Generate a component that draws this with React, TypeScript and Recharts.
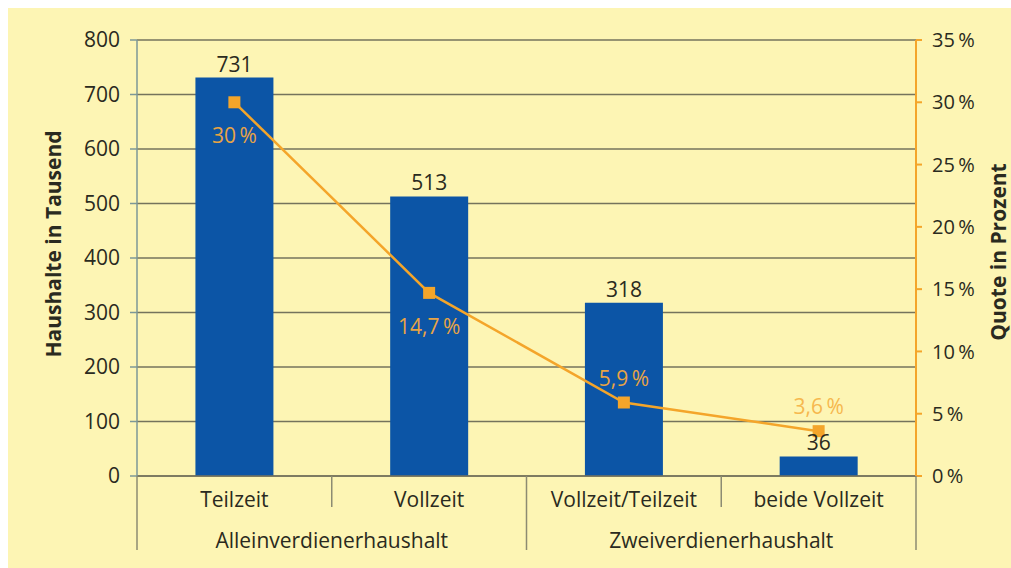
import { ComposedChart, Bar, Line, XAxis, YAxis, CartesianGrid, LabelList, Label } from "recharts";

const categories = ["Teilzeit", "Vollzeit", "Vollzeit/Teilzeit", "beide Vollzeit"];
const groups = ["Alleinverdienerhaushalt", "Zweiverdienerhaushalt"];
const groupOf = [0, 0, 1, 1];
const households = [731, 513, 318, 36]; // in Tausend
const quote = [30, 14.7, 5.9, 3.6]; // in Prozent
const leftTicks = [0, 100, 200, 300, 400, 500, 600, 700, 800];
const rightTicks = [0, 5, 10, 15, 20, 25, 30, 35];

const data = categories.map((name, i) => ({
  name,
  group: groupOf[i],
  households: households[i],
  quote: quote[i],
}));

const colors = {
  bg: "#fdf5b4",
  bar: "#0c55a6",
  orange: "#f4a52a",
  orangeLight: "#f6b84e",
  grid: "#74735c",
  divider: "#8c8b72",
  axis: "#7c9797",
  text: "#2a2a20",
};

const font = "'Open Sans', sans-serif";
const pct = (v: number) => `${String(v).replace(".", ",")}\u2009%`;

const CategoryTick = (props: any) => {
  const { x, y, payload, index } = props;
  const half = payload?.offset ?? 97.4;
  const g = groupOf[index];
  const first = index === 0 || groupOf[index - 1] !== g;
  const last = index === categories.length - 1;
  const members = groupOf.filter((v) => v === g).length;
  return (
    <g>
      <line x1={x - half} x2={x - half} y1={y} y2={y + (first ? 74 : 31)} stroke={colors.divider} strokeWidth={1.5} />
      {last && <line x1={x + half} x2={x + half} y1={y} y2={y + 74} stroke={colors.divider} strokeWidth={1.5} />}
      <text x={x} y={y + 31} textAnchor="middle" fontSize={21} fill={colors.text} fontFamily={font}>
        {payload.value}
      </text>
      {first && (
        <text x={x + (members - 1) * half} y={y + 72} textAnchor="middle" fontSize={21} fill={colors.text} fontFamily={font}>
          {groups[g]}
        </text>
      )}
    </g>
  );
};

const PctLabel = (props: any) => {
  const { x, y, value, index } = props;
  const below = value > 10;
  return (
    <text
      x={x}
      y={below ? y + 41 : y - 17}
      textAnchor="middle"
      fontSize={21}
      fill={index === quote.length - 1 ? colors.orangeLight : "#e9a444"}
      fontFamily={font}
    >
      {pct(value)}
    </text>
  );
};

const SquareDot = (props: any) => {
  const { cx, cy } = props;
  return <rect x={cx - 6} y={cy - 6} width={12} height={12} fill={colors.orange} />;
};

const LeftTitle = (props: any) => {
  const { x, y, height } = props.viewBox;
  const cx = x - 4;
  const cy = y + height / 2 - 14;
  return (
    <text x={cx} y={cy} transform={`rotate(-90 ${cx} ${cy})`} textAnchor="middle" dominantBaseline="central"
      fontSize={21} fontWeight="bold" fill={colors.text} fontFamily={font}>
      Haushalte in Tausend
    </text>
  );
};

const RightTitle = (props: any) => {
  const { x, y, height } = props.viewBox;
  const cx = x + 82;
  const cy = y + height / 2 - 6;
  return (
    <text x={cx} y={cy} transform={`rotate(-90 ${cx} ${cy})`} textAnchor="middle" dominantBaseline="central"
      fontSize={21} fontWeight="bold" fill={colors.text} fontFamily={font}>
      Quote in Prozent
    </text>
  );
};

export default function App() {
  return (
    <div style={{ position: "fixed", top: 8, left: 8, right: 0, bottom: 0, background: colors.bg }}>
      <ComposedChart
        width={1003}
        height={560}
        data={data}
        margin={{ top: 32, right: 35, bottom: 12, left: 49 }}
        barCategoryGap="30%"
      >
        <CartesianGrid yAxisId="left" vertical={false} stroke={colors.grid} strokeWidth={1.5} />
        <XAxis
          dataKey="name"
          height={80}
          tickSize={0}
          tickMargin={0}
          axisLine={{ stroke: colors.grid, strokeWidth: 1.5 }}
          tick={<CategoryTick />}
          interval={0}
        />
        <YAxis
          yAxisId="left"
          width={80}
          domain={[0, 800]}
          ticks={leftTicks}
          tickSize={7}
          tickMargin={10}
          axisLine={{ stroke: colors.axis, strokeWidth: 1.5 }}
          tickLine={{ stroke: colors.axis, strokeWidth: 1.5 }}
          tick={{ fill: colors.text, fontSize: 21, fontFamily: font }}
        >
          <Label content={<LeftTitle />} />
        </YAxis>
        <YAxis
          yAxisId="right"
          orientation="right"
          width={60}
          domain={[0, 35]}
          ticks={rightTicks}
          tickFormatter={(v: number) => pct(v)}
          tickSize={6}
          tickMargin={10}
          axisLine={{ stroke: colors.orange, strokeWidth: 2 }}
          tickLine={{ stroke: colors.orange, strokeWidth: 2 }}
          tick={{ fill: colors.text, fontSize: 20, fontFamily: font, textAnchor: "start" }}
        >
          <Label content={<RightTitle />} />
        </YAxis>
        <Bar yAxisId="left" dataKey="households" fill={colors.bar} isAnimationActive={false}>
          <LabelList dataKey="households" position="top" offset={6} fill={colors.text} fontSize={21} fontFamily={font} />
        </Bar>
        <Line
          yAxisId="right"
          dataKey="quote"
          stroke={colors.orange}
          strokeWidth={2.5}
          type="linear"
          dot={<SquareDot />}
          activeDot={false}
          isAnimationActive={false}
        >
          <LabelList dataKey="quote" content={<PctLabel />} />
        </Line>
      </ComposedChart>
    </div>
  );
}
